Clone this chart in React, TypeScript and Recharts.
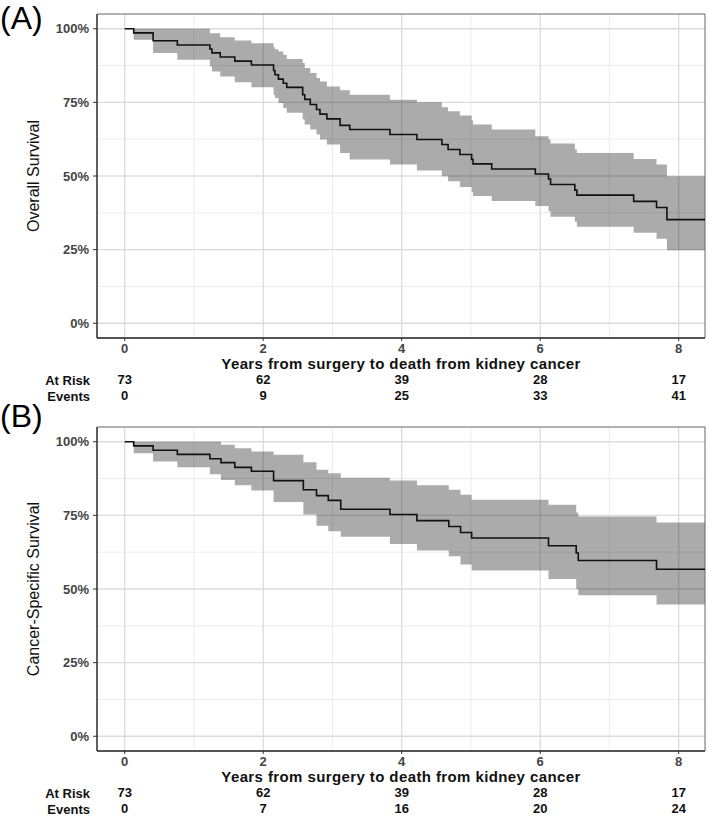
import React from 'react';
import { ComposedChart, Line, Area, XAxis, YAxis, CartesianGrid, ReferenceArea } from 'recharts';

// ---- Panel A: Overall survival ----
const timesA = [0, 0.13, 0.41, 0.76, 1.23, 1.26, 1.38, 1.59, 1.83, 2.15, 2.17, 2.22, 2.29, 2.34, 2.57, 2.6, 2.68, 2.77, 2.82, 2.92, 3.11, 3.25, 3.83, 4.22, 4.58, 4.67, 4.84, 5.01, 5.03, 5.3, 5.93, 6.12, 6.15, 6.5, 6.53, 7.35, 7.68, 7.83, 8.38];
const survA = [1, 0.986, 0.959, 0.945, 0.931, 0.918, 0.904, 0.89, 0.877, 0.858, 0.844, 0.829, 0.815, 0.801, 0.776, 0.76, 0.743, 0.726, 0.71, 0.694, 0.672, 0.658, 0.641, 0.624, 0.607, 0.59, 0.573, 0.556, 0.541, 0.524, 0.507, 0.49, 0.471, 0.452, 0.435, 0.414, 0.393, 0.352, 0.352];
const upperA = [1, 1, 1, 1, 0.985, 0.985, 0.971, 0.96, 0.951, 0.937, 0.93, 0.923, 0.912, 0.897, 0.884, 0.867, 0.85, 0.833, 0.821, 0.804, 0.791, 0.776, 0.759, 0.75, 0.733, 0.72, 0.705, 0.689, 0.675, 0.658, 0.635, 0.624, 0.61, 0.59, 0.578, 0.558, 0.539, 0.499, 0.499];
const lowerA = [1, 0.963, 0.918, 0.895, 0.872, 0.855, 0.838, 0.818, 0.801, 0.775, 0.765, 0.748, 0.731, 0.715, 0.692, 0.675, 0.658, 0.641, 0.624, 0.607, 0.578, 0.556, 0.539, 0.519, 0.499, 0.482, 0.463, 0.445, 0.432, 0.415, 0.398, 0.38, 0.362, 0.345, 0.328, 0.307, 0.287, 0.248, 0.248];
const atRiskA = [73, 62, 39, 28, 17];
const eventsA = [0, 9, 25, 33, 41];

// ---- Panel B: Cancer-specific survival ----
const timesB = [0, 0.13, 0.41, 0.76, 1.23, 1.39, 1.59, 1.83, 2.15, 2.58, 2.77, 2.94, 3.12, 3.83, 4.22, 4.68, 4.85, 5.01, 6.12, 6.52, 6.55, 7.68, 8.38];
const survB = [1, 0.986, 0.971, 0.957, 0.942, 0.929, 0.913, 0.9, 0.868, 0.837, 0.817, 0.801, 0.771, 0.753, 0.732, 0.712, 0.692, 0.673, 0.647, 0.622, 0.597, 0.567, 0.567];
const upperB = [1, 1, 1, 1, 1, 0.99, 0.978, 0.967, 0.956, 0.93, 0.905, 0.893, 0.878, 0.868, 0.852, 0.837, 0.82, 0.803, 0.786, 0.76, 0.746, 0.726, 0.726];
const lowerB = [1, 0.961, 0.933, 0.913, 0.89, 0.87, 0.852, 0.834, 0.795, 0.753, 0.715, 0.696, 0.677, 0.653, 0.631, 0.611, 0.583, 0.563, 0.534, 0.5, 0.479, 0.447, 0.447];
const atRiskB = [73, 62, 39, 28, 17];
const eventsB = [0, 7, 16, 20, 24];

// ---- Axes ----
const xTicks = [0, 2, 4, 6, 8];
const xMinor = [1, 3, 5, 7];
const yTicks = [0, 0.25, 0.5, 0.75, 1];
const yMinor = [0.125, 0.375, 0.625, 0.875];
const xDomain = [-0.4, 8.38];
const yDomain = [-0.05, 1.05];
const xTitle = 'Years from surgery to death from kidney cancer';

const FONT = '"Liberation Sans", Arial, Helvetica, sans-serif';

function Panel({ times, surv, lower, upper, atRisk, events, yTitle }: any) {
  const data = times.map((t: number, i: number) => ({ t, s: surv[i], band: [lower[i], upper[i]] }));
  const riskTick = { fontSize: 13, fontWeight: 'bold', fill: '#111', fontFamily: FONT };
  return (
    <ComposedChart width={709} height={404} data={data} margin={{ top: 14, right: 4, bottom: 0, left: 0 }}>
      <CartesianGrid verticalValues={xMinor} horizontalValues={yMinor} stroke="#ececec" strokeWidth={1} />
      <CartesianGrid verticalValues={xTicks} horizontalValues={yTicks} stroke="#dcdcdc" strokeWidth={1.3} />
      <XAxis
        dataKey="t"
        type="number"
        domain={xDomain}
        ticks={xTicks}
        interval={0}
        allowDataOverflow
        height={34}
        tickSize={3}
        tickMargin={3}
        stroke="#333"
        axisLine={{ stroke: '#333', strokeWidth: 1.3 }}
        tick={{ fontSize: 13, fontWeight: 'bold', fill: '#444', fontFamily: FONT }}
        label={{ value: xTitle, position: 'insideBottom', offset: 3, style: { fontSize: 15, fontWeight: 'bold', fill: '#111', fontFamily: FONT, letterSpacing: '0.4px' } }}
      />
      <XAxis
        xAxisId="r1"
        dataKey="t"
        type="number"
        domain={xDomain}
        ticks={xTicks}
        interval={0}
        allowDataOverflow
        height={16}
        axisLine={false}
        tickLine={false}
        tickSize={0}
        tickMargin={3}
        tick={riskTick}
        tickFormatter={(v: number) => String(atRisk[xTicks.indexOf(v)])}
        label={{ value: 'At Risk', position: 'left', offset: 7, style: riskTick }}
      />
      <XAxis
        xAxisId="r2"
        dataKey="t"
        type="number"
        domain={xDomain}
        ticks={xTicks}
        interval={0}
        allowDataOverflow
        height={16}
        axisLine={false}
        tickLine={false}
        tickSize={0}
        tickMargin={3}
        tick={riskTick}
        tickFormatter={(v: number) => String(events[xTicks.indexOf(v)])}
        label={{ value: 'Events', position: 'left', offset: 7, style: riskTick }}
      />
      <YAxis
        type="number"
        domain={yDomain}
        ticks={yTicks}
        interval={0}
        allowDataOverflow
        width={97}
        tickSize={4}
        tickMargin={4}
        stroke="#333"
        axisLine={{ stroke: '#333', strokeWidth: 1.3 }}
        tick={{ fontSize: 13, fontWeight: 'bold', fill: '#444', fontFamily: FONT }}
        tickFormatter={(v: number) => `${Math.round(v * 100)}%`}
        label={{ value: yTitle, angle: -90, position: 'insideLeft', offset: 33, style: { textAnchor: 'middle', fontSize: 16, fill: '#111', fontFamily: FONT } }}
      />
      <Area type="stepAfter" dataKey="band" stroke="none" fill="#000" fillOpacity={0.33} isAnimationActive={false} />
      <Line type="stepAfter" dataKey="s" stroke="#111" strokeWidth={1.6} dot={false} isAnimationActive={false} />
      <ReferenceArea x1={xDomain[0]} x2={xDomain[1]} y1={yDomain[0]} y2={yDomain[1]} fill="none" stroke="#666" strokeWidth={1} ifOverflow="visible" />
    </ComposedChart>
  );
}

const panelLabel: React.CSSProperties = { position: 'absolute', left: 0, fontSize: 32, lineHeight: '36px', fontFamily: FONT, color: '#000' };

export default function App() {
  return (
    <div style={{ position: 'absolute', left: 0, top: 0, width: 709, height: 818, background: '#fff', fontFamily: FONT }}>
      <div style={{ position: 'absolute', left: 0, top: 0 }}>
        <Panel times={timesA} surv={survA} lower={lowerA} upper={upperA} atRisk={atRiskA} events={eventsA} yTitle="Overall Survival" />
      </div>
      <div style={{ position: 'absolute', left: 0, top: 413 }}>
        <Panel times={timesB} surv={survB} lower={lowerB} upper={upperB} atRisk={atRiskB} events={eventsB} yTitle="Cancer-Specific Survival" />
      </div>
      <div style={{ ...panelLabel, top: 0 }}>(A)</div>
      <div style={{ ...panelLabel, top: 398 }}>(B)</div>
    </div>
  );
}
